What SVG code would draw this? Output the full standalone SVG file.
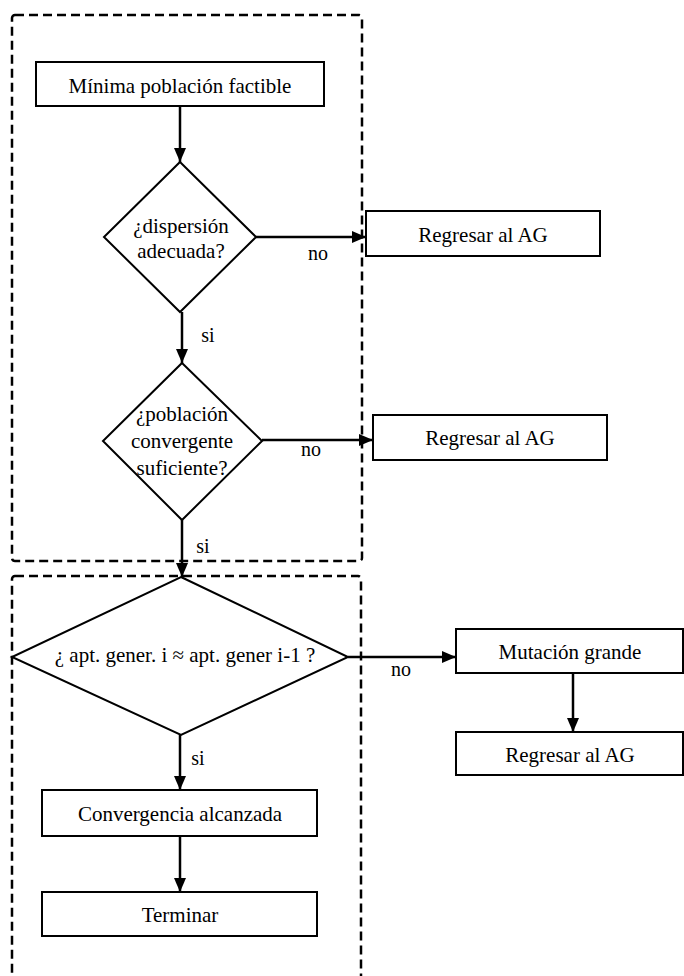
<svg xmlns="http://www.w3.org/2000/svg" width="684" height="976" viewBox="0 0 684 976">
  <defs>
    <marker id="arrow" markerUnits="userSpaceOnUse" markerWidth="14" markerHeight="12" refX="14" refY="6" orient="auto">
      <path d="M0,0 L14,6 L0,12 Z" fill="#000"/>
    </marker>
    <style>
      .frame { fill: none; stroke: #000; stroke-width: 2.5; stroke-dasharray: 9 5; }
      .box { fill: #fff; stroke: #000; stroke-width: 2; }
      .edge { fill: none; stroke: #000; stroke-width: 2.5; marker-end: url(#arrow); }
      text { font-family: "Liberation Serif", "DejaVu Serif", serif; font-size: 21px; fill: #000; text-anchor: middle; }
      .lbl { font-size: 20px; }
    </style>
  </defs>
  <rect width="684" height="976" fill="#fff"/>

  <!-- dashed grouping frames -->
  <g id="frames">
    <rect class="frame" x="12" y="15" width="350" height="546" rx="3"/>
    <rect class="frame" x="12" y="576" width="349" height="420" rx="3"/>
  </g>

  <!-- connectors -->
  <g id="connectors">
    <line class="edge" x1="180" y1="106" x2="180" y2="162"/>
    <line class="edge" x1="256" y1="237" x2="366" y2="237"/>
    <line class="edge" x1="182" y1="312" x2="182" y2="363"/>
    <line class="edge" x1="262" y1="440" x2="373" y2="440"/>
    <line class="edge" x1="182" y1="520" x2="182" y2="577"/>
    <line class="edge" x1="348" y1="657" x2="456" y2="657"/>
    <line class="edge" x1="573" y1="673" x2="573" y2="732"/>
    <line class="edge" x1="180" y1="735" x2="180" y2="790"/>
    <line class="edge" x1="180" y1="836" x2="180" y2="892"/>
    <text class="lbl" x="318" y="260">no</text>
    <text class="lbl" x="208" y="342">si</text>
    <text class="lbl" x="311" y="456">no</text>
    <text class="lbl" x="203" y="553">si</text>
    <text class="lbl" x="401" y="676">no</text>
    <text class="lbl" x="198" y="765">si</text>
  </g>

  <g id="minima">
    <rect class="box" x="36" y="62" width="288" height="44"/>
    <text x="180" y="93">Mínima población factible</text>
  </g>

  <g id="dispersion">
    <polygon class="box" points="180,162 256,237 180,312 104,237"/>
    <text x="181" y="233">¿dispersión</text>
    <text x="181" y="258">adecuada?</text>
  </g>

  <g id="regresar1">
    <rect class="box" x="366" y="211" width="234" height="45"/>
    <text x="483" y="242">Regresar al AG</text>
  </g>

  <g id="poblacion">
    <polygon class="box" points="182,363 262,441 182,520 103,441"/>
    <text x="182" y="421">¿población</text>
    <text x="182" y="448">convergente</text>
    <text x="182" y="475">suficiente?</text>
  </g>

  <g id="regresar2">
    <rect class="box" x="373" y="415" width="234" height="45"/>
    <text x="490" y="445">Regresar al AG</text>
  </g>

  <g id="aptitud">
    <polygon class="box" points="181,577 348,657 181,735 12,657"/>
    <text x="185" y="662">¿ apt. gener. i ≈ apt. gener i-1 ?</text>
  </g>

  <g id="mutacion">
    <rect class="box" x="456" y="629" width="227" height="44"/>
    <text x="570" y="659">Mutación grande</text>
  </g>

  <g id="regresar3">
    <rect class="box" x="456" y="732" width="227" height="43"/>
    <text x="570" y="762">Regresar al AG</text>
  </g>

  <g id="convergencia">
    <rect class="box" x="42" y="790" width="275" height="46"/>
    <text x="180" y="821">Convergencia alcanzada</text>
  </g>

  <g id="terminar">
    <rect class="box" x="42" y="892" width="275" height="44"/>
    <text x="180" y="922">Terminar</text>
  </g>
</svg>
